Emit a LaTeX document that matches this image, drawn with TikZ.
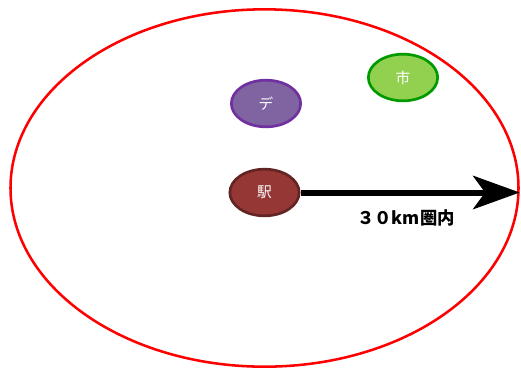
\documentclass[tikz,border=0pt]{standalone}
\usepackage{fontspec}
\setmainfont{Noto Sans CJK JP}
\usetikzlibrary{shapes.geometric,arrows.meta,positioning}
\definecolor{ekired}{HTML}{953735}
\definecolor{ekiedge}{HTML}{632523}
\definecolor{depurple}{HTML}{8064A2}
\definecolor{deedge}{HTML}{7030A0}
\definecolor{shigreen}{HTML}{92D050}
\definecolor{shiedge}{HTML}{009900}
\tikzset{
  spot/.style={shape=ellipse, inner sep=0pt, line width=2pt, minimum width=52pt, minimum height=35pt, text=white, font=\fontsize{11}{11}\selectfont}
}
\begin{document}
\begin{tikzpicture}[x=0.75pt,y=-0.75pt]
\useasboundingbox (0,0) rectangle (521,369);

%draw 30km area
\node [shape=ellipse, draw=red, line width=1.9pt, inner sep=0pt, minimum width=381pt, minimum height=268pt] at (264.5,188) (area) {};

%draw spots
\node [spot, draw=ekiedge, fill=ekired] at (264.5,192.5) (eki) {駅};
\node [spot, draw=deedge, fill=depurple] at (266,103.5) (de) {デ};
\node [spot, draw=shiedge, fill=shigreen] at (403,77.5) (shi) {市};

%radius arrow with label
\draw [-{Stealth[length=35pt, width=25pt, inset=9pt]}, line width=4.5pt] (eki.east) -- (eki.east -| area.east);
\node [font=\bfseries\fontsize{13}{13}\selectfont] at (406,218) (radius) {３０km圏内};
\end{tikzpicture}
\end{document}
